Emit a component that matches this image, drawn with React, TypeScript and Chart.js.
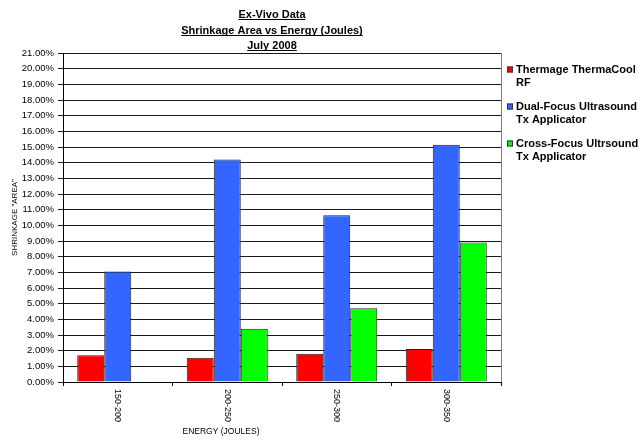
import React, { useEffect, useRef } from "react";
import { Chart, registerables } from "chart.js";

Chart.register(...registerables);

const categories = ["150-200", "200-250", "250-300", "300-350"];
const seriesLabels = [
  "Thermage ThermaCool\nRF",
  "Dual-Focus Ultrasound\nTx Applicator",
  "Cross-Focus Ultrsound\nTx Applicator",
];
const thermage = [1.7, 1.55, 1.8, 2.1];
const dualFocus = [7.05, 14.2, 10.65, 15.15];
const crossFocus = [null, 3.4, 4.7, 8.9];
const seriesColors = ["#ff0000", "#3366ff", "#00ff00"];
const titleLines = ["Ex-Vivo Data", "Shrinkage Area vs Energy (Joules)", "July 2008"];
const yAxisTitle = 'SHRINKAGE "AREA"';
const xAxisTitle = "ENERGY (JOULES)";
const yMax = 21;
const yStep = 1;

const FONT = "'Liberation Sans', Arial, sans-serif";

const decorPlugin = {
  id: "decor",
  afterDraw(chart: any) {
    const ctx = chart.ctx as CanvasRenderingContext2D;
    const area = chart.chartArea;
    ctx.save();
    // right border of plot
    ctx.strokeStyle = "#7f7f7f";
    ctx.lineWidth = 1;
    ctx.beginPath();
    ctx.moveTo(Math.round(area.right) + 0.5, area.top);
    ctx.lineTo(Math.round(area.right) + 0.5, area.bottom);
    ctx.stroke();

    // title
    ctx.fillStyle = "#000";
    ctx.font = `bold 11px ${FONT}`;
    ctx.textAlign = "center";
    ctx.textBaseline = "alphabetic";
    const tys = [18, 34, 49];
    titleLines.forEach((t, i) => {
      const cx = 272;
      ctx.fillText(t, cx, tys[i]);
      const w = ctx.measureText(t).width;
      ctx.beginPath();
      ctx.strokeStyle = "#000";
      ctx.moveTo(cx - w / 2, tys[i] + 1.5);
      ctx.lineTo(cx + w / 2, tys[i] + 1.5);
      ctx.stroke();
    });

    // x tick labels rotated clockwise
    const xs = chart.scales.x;
    ctx.font = `9px ${FONT}`;
    ctx.textAlign = "left";
    ctx.textBaseline = "middle";
    categories.forEach((c, i) => {
      const px = xs.getPixelForValue(i);
      ctx.save();
      ctx.translate(px, area.bottom + 7);
      ctx.rotate(Math.PI / 2);
      ctx.fillText(c, 0, 0);
      ctx.restore();
    });

    // x axis title
    ctx.font = `8.5px ${FONT}`;
    ctx.textAlign = "center";
    ctx.textBaseline = "middle";
    ctx.fillText(xAxisTitle, 221, 432);

    // y axis title
    ctx.save();
    ctx.font = `8px ${FONT}`;
    ctx.translate(15, (area.top + area.bottom) / 2);
    ctx.rotate(-Math.PI / 2);
    ctx.textAlign = "center";
    ctx.textBaseline = "middle";
    ctx.fillText(yAxisTitle, 0, 0);
    ctx.restore();

    // legend
    const lx = 507;
    const starts = [70, 107, 144];
    chart.data.datasets.forEach((ds: any, i: number) => {
      const y = starts[i];
      ctx.fillStyle = ds.backgroundColor;
      ctx.fillRect(lx, y - 3.5, 6, 6);
      ctx.strokeStyle = "#333";
      ctx.strokeRect(lx + 0.5, y - 3.5 + 0.5, 5, 5);
      ctx.fillStyle = "#000";
      ctx.font = `bold 11px ${FONT}`;
      ctx.textAlign = "left";
      ctx.textBaseline = "middle";
      String(ds.label)
        .split("\n")
        .forEach((ln: string, j: number) => {
          ctx.fillText(ln, lx + 9, y + j * 13);
        });
    });
    ctx.restore();
  },
};

export default function App() {
  const ref = useRef<HTMLCanvasElement | null>(null);
  useEffect(() => {
    document.body.style.margin = "0";
    const canvas = ref.current;
    if (!canvas) return;
    const chart = new Chart(canvas, {
      type: "bar",
      data: {
        labels: categories,
        datasets: [thermage, dualFocus, crossFocus].map((d, i) => ({
          label: seriesLabels[i],
          data: d as any,
          backgroundColor: seriesColors[i],
          borderColor: "#222",
          borderWidth: 1,
          categoryPercentage: 0.74,
          barPercentage: 1,
        })),
      },
      options: {
        responsive: false,
        animation: false,
        events: [],
        layout: { padding: { top: 53, right: 140, left: 0, bottom: 0 } },
        plugins: {
          legend: { display: false },
          title: { display: false },
          tooltip: { enabled: false },
        },
        scales: {
          x: {
            afterFit: (s: any) => {
              s.height = 58;
            },
            ticks: { display: false },
            grid: {
              display: true,
              drawOnChartArea: false,
              drawTicks: true,
              tickLength: 4,
              offset: true,
              color: "#000",
            },
            border: { display: true, color: "#000", width: 1 },
          },
          y: {
            min: 0,
            max: yMax,
            afterFit: (s: any) => {
              s.width = 63;
            },
            ticks: {
              stepSize: yStep,
              color: "#000",
              padding: 4,
              font: { family: FONT, size: 9.5 },
              callback: (v: any) => Number(v).toFixed(2) + "%",
            },
            grid: {
              color: "#1a1a1a",
              lineWidth: 1,
              tickLength: 5,
            },
            border: { display: true, color: "#000", width: 1 },
          },
        },
      },
      plugins: [decorPlugin],
    });
    return () => chart.destroy();
  }, []);
  return (
    <div style={{ position: "absolute", left: 0, top: 0, width: 641, height: 440, background: "#fff" }}>
      <canvas ref={ref} width={641} height={440} />
    </div>
  );
}
